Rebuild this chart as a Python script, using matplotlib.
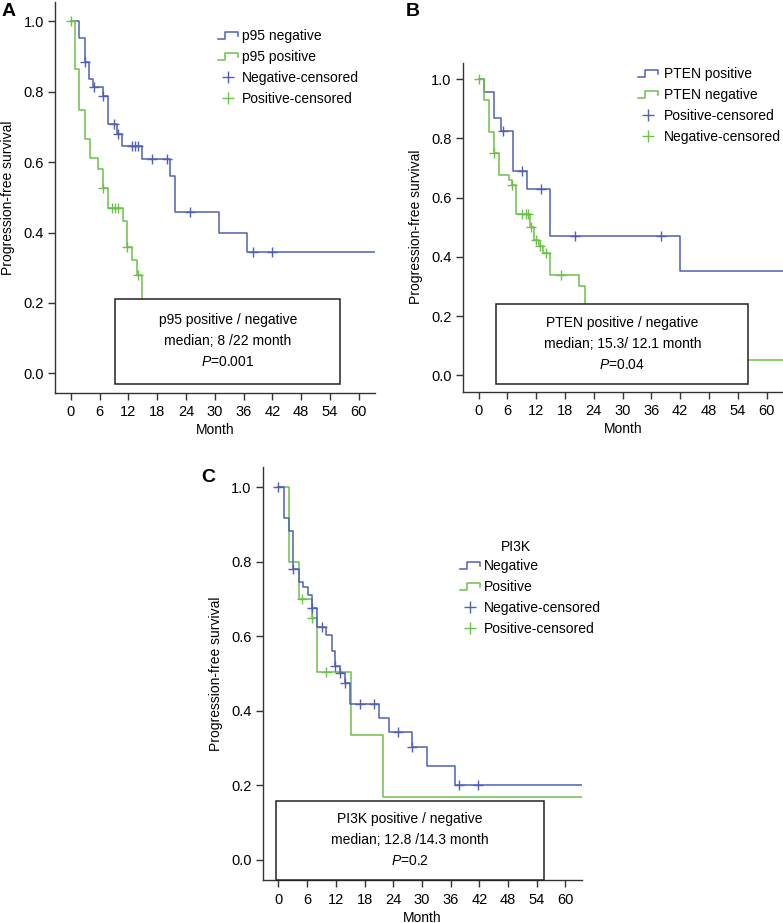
import numpy as np
import matplotlib
matplotlib.use("Agg")
import matplotlib.pyplot as plt
from matplotlib.lines import Line2D
from matplotlib.legend_handler import HandlerBase
from matplotlib.patches import Rectangle

plt.rcParams["font.family"] = "Liberation Sans"
plt.rcParams["mathtext.fontset"] = "custom"
plt.rcParams["mathtext.it"] = "Liberation Sans:italic"
plt.rcParams["mathtext.rm"] = "Liberation Sans"

BLUE = "#5060b4"
GREEN = "#6cc04c"

month_ticks = list(range(0, 61, 6))
surv_ticks = [0.0, 0.2, 0.4, 0.6, 0.8, 1.0]

# Panel A: p95
a_neg_t = [0, 1.74, 2.93, 3.84, 4.68, 6.77, 7.82, 9.57, 10.6, 14.8, 20.7, 21.8, 30.9, 36.8]
a_neg_s = [1.0, 0.953, 0.884, 0.837, 0.814, 0.788, 0.708, 0.68, 0.647, 0.609, 0.562, 0.458, 0.40, 0.344]
a_neg_cens = [2.93, 4.8, 6.8, 8.9, 9.9, 12.7, 13.4, 14.1, 16.9, 20.0, 24.9, 38.0, 41.9]
a_pos_t = [0, 0.83, 1.74, 2.93, 3.98, 5.74, 6.77, 7.82, 10.8, 11.8, 12.85, 13.76, 14.8]
a_pos_s = [1.0, 0.864, 0.748, 0.666, 0.612, 0.581, 0.527, 0.47, 0.433, 0.36, 0.322, 0.28, 0.10]
a_pos_cens = [0, 6.8, 8.5, 9.2, 9.9, 11.8, 14.0]
a_pos_end = 24.0
a_labels = ["p95 negative", "p95 positive", "Negative-censored", "Positive-censored"]
a_box = ["p95 positive / negative", "median; 8 /22 month", "$P$=0.001"]

# Panel B: PTEN
b_pos_t = [0, 1.04, 3.13, 4.7, 7.2, 10.1, 14.97, 41.96]
b_pos_s = [1.0, 0.957, 0.869, 0.824, 0.69, 0.628, 0.47, 0.351]
b_pos_cens = [5.0, 9.06, 13.0, 20.0, 37.9]
b_neg_t = [0, 1.04, 2.09, 3.13, 4.18, 6.26, 6.97, 7.87, 10.8, 11.5, 12.5, 13.4, 14.8, 20.9, 22.1]
b_neg_s = [1.0, 0.929, 0.822, 0.749, 0.676, 0.659, 0.642, 0.546, 0.501, 0.458, 0.436, 0.413, 0.338, 0.30, 0.053]
b_neg_cens = [0, 3.13, 7.0, 9.06, 9.96, 10.4, 10.9, 11.9, 12.7, 14.1, 17.1]
b_labels = ["PTEN positive", "PTEN negative", "Positive-censored", "Negative-censored"]
b_box = ["PTEN positive / negative", "median; 15.3/ 12.1 month", "$P$=0.04"]

# Panel C: PI3K
c_neg_t = [0, 1.24, 2.14, 3.1, 4.2, 5.2, 6.1, 7.1, 8.1, 10.0, 11.2, 11.9, 12.9, 14.0, 15.0, 21.1, 23.2, 28.0, 31.0, 37.0]
c_neg_s = [1.0, 0.916, 0.881, 0.78, 0.744, 0.731, 0.711, 0.675, 0.625, 0.603, 0.559, 0.52, 0.50, 0.474, 0.419, 0.38, 0.343, 0.301, 0.25, 0.20]
c_neg_cens = [0, 3.1, 7.1, 9.2, 11.9, 12.9, 14.0, 17.1, 20.0, 25.0, 28.0, 37.8, 41.8]
c_pos_t = [0, 2.2, 4.2, 7.1, 8.1, 15.1, 21.9]
c_pos_s = [1.0, 0.80, 0.70, 0.648, 0.503, 0.335, 0.168]
c_pos_cens = [5.0, 7.1, 10.0]
c_labels = ["Negative", "Positive", "Negative-censored", "Positive-censored"]
c_box = ["PI3K positive / negative", "median; 12.8 /14.3 month", "$P$=0.2"]

XMAX = 63.4


class StepHandler(HandlerBase):
    def create_artists(self, legend, orig_handle, xdescent, ydescent,
                       width, height, fontsize, trans):
        xs = np.array([0, 0.35, 0.35, 1.0, 1.0]) * width - xdescent
        ys = np.array([0.1, 0.1, 0.8, 0.8, 0.45]) * height - ydescent
        ln = Line2D(xs, ys, color=orig_handle.get_color(), lw=1.1, transform=trans)
        return [ln]


def level_at(t, times, surv):
    i = np.searchsorted(times, t, side="right") - 1
    return surv[i]


def km(ax, times, surv, cens, color, end, z):
    xs = list(times) + [end]
    ys = list(surv) + [surv[-1]]
    ax.step(xs, ys, where="post", color=color, lw=1.1, zorder=z)
    cy = [level_at(t, times, surv) for t in cens]
    ax.plot(cens, cy, ls="none", marker="+", ms=7, mew=1.0, color=color, zorder=z)


fig = plt.figure(figsize=(7.83, 9.23), dpi=100)
W, H = 783.0, 923.0


def add_axes(l, t, r, b):
    return fig.add_axes([l / W, 1 - b / H, (r - l) / W, (b - t) / H])


def style(ax):
    ax.set_xlim(-3.3, XMAX)
    ax.set_ylim(-0.055, 1.055)
    ax.spines["top"].set_visible(False)
    ax.spines["right"].set_visible(False)
    for s in ("left", "bottom"):
        ax.spines[s].set_linewidth(1.0)
        ax.spines[s].set_color("#333333")
    ax.set_xticks(month_ticks)
    ax.set_yticks(surv_ticks)
    ax.set_yticklabels([f"{v:.1f}" for v in surv_ticks])
    ax.tick_params(length=5, width=1.0, color="#333333", labelsize=10.5, pad=3)
    ax.tick_params(axis="x", pad=4)
    ax.set_xlabel("Month", fontsize=10, labelpad=3)
    ax.set_ylabel("Progression-free survival", fontsize=10, labelpad=6)


def box(ax, x0, y0, x1, y1, lines):
    ax.add_patch(Rectangle((x0, y0), x1 - x0, y1 - y0, facecolor="white",
                           edgecolor="#222222", lw=1.1, zorder=5, clip_on=False))
    cx, cy = (x0 + x1) / 2, (y0 + y1) / 2
    for k, txt in enumerate(lines):
        ax.annotate(txt, xy=(cx, cy), xytext=(0, 21 - 21 * k), textcoords="offset pixels",
                    ha="center", va="center", fontsize=10, zorder=6)


def legend(ax, labels, x, y, pad):
    handles = [Line2D([], [], color=BLUE), Line2D([], [], color=GREEN),
               Line2D([], [], color=BLUE, marker="+", ls="none", ms=9, mew=1.0),
               Line2D([], [], color=GREEN, marker="+", ls="none", ms=9, mew=1.0)]
    ax.legend(handles, labels, loc="upper left", bbox_to_anchor=(x / W, 1 - y / H),
              bbox_transform=fig.transFigure, frameon=False, fontsize=10,
              handlelength=1.45, handletextpad=pad, labelspacing=0.5, borderpad=0,
              borderaxespad=0,
              handler_map={handles[0]: StepHandler(), handles[1]: StepHandler()})


# A
axA = add_axes(55, 2, 375, 392.7)
style(axA)
km(axA, a_neg_t, a_neg_s, a_neg_cens, BLUE, XMAX, 2)
km(axA, a_pos_t, a_pos_s, a_pos_cens, GREEN, a_pos_end, 3)
box(axA, 9.3, -0.031, 56.2, 0.212, a_box)
legend(axA, a_labels, 218, 29, 0.3)
fig.text(8.5 / W, 1 - 11.5 / H, "A", fontsize=14, fontweight="bold", ha="center", va="center")

# B
axB = add_axes(462.7, 62.7, 783, 391.7)
style(axB)
km(axB, b_pos_t, b_pos_s, b_pos_cens, BLUE, XMAX, 2)
km(axB, b_neg_t, b_neg_s, b_neg_cens, GREEN, XMAX, 3)
box(axB, 3.7, -0.028, 56.2, 0.24, b_box)
legend(axB, b_labels, 638, 67, 0.4)
fig.text(412.5 / W, 1 - 11 / H, "B", fontsize=14, fontweight="bold", ha="center", va="center")

# C
axC = add_axes(262.7, 466.7, 581.7, 880)
style(axC)
km(axC, c_pos_t, c_pos_s, c_pos_cens, GREEN, XMAX, 2)
km(axC, c_neg_t, c_neg_s, c_neg_cens, BLUE, XMAX, 3)
box(axC, -0.56, -0.055, 55.5, 0.158, c_box)
legend(axC, c_labels, 460, 559, 0.3)
fig.text(516 / W, 1 - 547 / H, "PI3K", fontsize=10, ha="center", va="center")
fig.text(208 / W, 1 - 477.5 / H, "C", fontsize=14, fontweight="bold", ha="center", va="center")

fig.savefig("out.png", dpi=100)
